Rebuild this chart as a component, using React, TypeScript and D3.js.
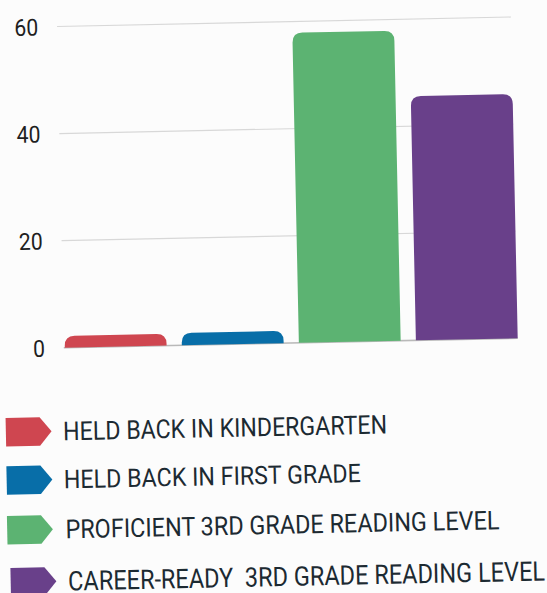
import React from "react";
import * as d3 from "d3";

const categories = [
  "HELD BACK IN KINDERGARTEN",
  "HELD BACK IN FIRST GRADE",
  "PROFICIENT 3RD GRADE READING LEVEL",
  "CAREER-READY  3RD GRADE READING LEVEL",
];
const values = [2.2, 2.3, 57.9, 45.6];
const colors = ["#cf4650", "#086ea8", "#5cb372", "#69408a"];
const yTicks = [0, 20, 40, 60];

// legend layout (flat coordinates before the slight rotation)
const legendRowY = [432.3, 480.5, 530.3, 582.2];
const legendMarkerX = [-3.2, -3.4, -3.9, -1.5];
const legendTextX = [54.1, 53.8, 54.4, 55.9];
const legendTextW = [324, 297, 434, 477];
const legendFont = [26, 25.5, 26, 27];

const W = 547;
const H = 593;

function topRounded(x: number, y: number, w: number, h: number, r: number) {
  const rr = Math.min(r, h, w / 2);
  return `M${x},${y + h}V${y + rr}Q${x},${y} ${x + rr},${y}H${x + w - rr}Q${x + w},${y} ${x + w},${y + rr}V${y + h}Z`;
}

export default function App() {
  const x = d3
    .scaleBand<string>()
    .domain(categories)
    .range([57.5, 510.5])
    .paddingInner(0.13)
    .paddingOuter(0);
  const y = d3.scaleLinear().domain([0, 60]).range([349, 27.7]);

  return (
    <svg
      width={W}
      height={H}
      style={{ position: "absolute", left: 0, top: 0, background: "#fff" }}
    >
      <rect width={W} height={H} fill="#fcfcfc" />
      <g transform="rotate(-1.2)">
        {yTicks.map((t) => (
          <g key={t}>
            <line
              x1={x.range()[0] - 1}
              x2={x.range()[1]}
              y1={y(t)}
              y2={y(t)}
              stroke={t === 0 ? "#b9b9b9" : "#d8d8d8"}
              strokeWidth={t === 0 ? 1.6 : 1.2}
            />
            <text
              transform={`translate(37.6,${y(t) + 2.3}) scale(0.9,1)`}
              textAnchor="end"
              dominantBaseline="middle"
              fontFamily="Roboto, sans-serif"
              fontSize={23.5}
              fill="#1f1f1f"
            >
              {t}
            </text>
          </g>
        ))}
        {categories.map((c, i) => {
          const bx = x(c)!;
          const by = y(values[i]);
          const bh = y(0) - by;
          return (
            <path
              key={c}
              d={topRounded(bx, by, x.bandwidth(), bh, 10)}
              fill={colors[i]}
            />
          );
        })}
        {categories.map((c, i) => {
          const cy = legendRowY[i];
          const mx = legendMarkerX[i];
          const fs = legendFont[i];
          return (
            <g key={"lg" + c}>
              <path
                d={`M${mx},${cy - 14.2}H${mx + 34}L${mx + 45.7},${cy}L${mx + 34},${cy + 14.2}H${mx}Z`}
                fill={colors[i]}
              />
              <text
                x={legendTextX[i]}
                y={cy + fs * 0.355}
                fontFamily="Roboto, sans-serif"
                fontSize={fs}
                fill="#1c2a32"
                textLength={legendTextW[i]}
                lengthAdjust="spacingAndGlyphs"
                style={{ whiteSpace: "pre" }}
              >
                {c}
              </text>
            </g>
          );
        })}
      </g>
    </svg>
  );
}
